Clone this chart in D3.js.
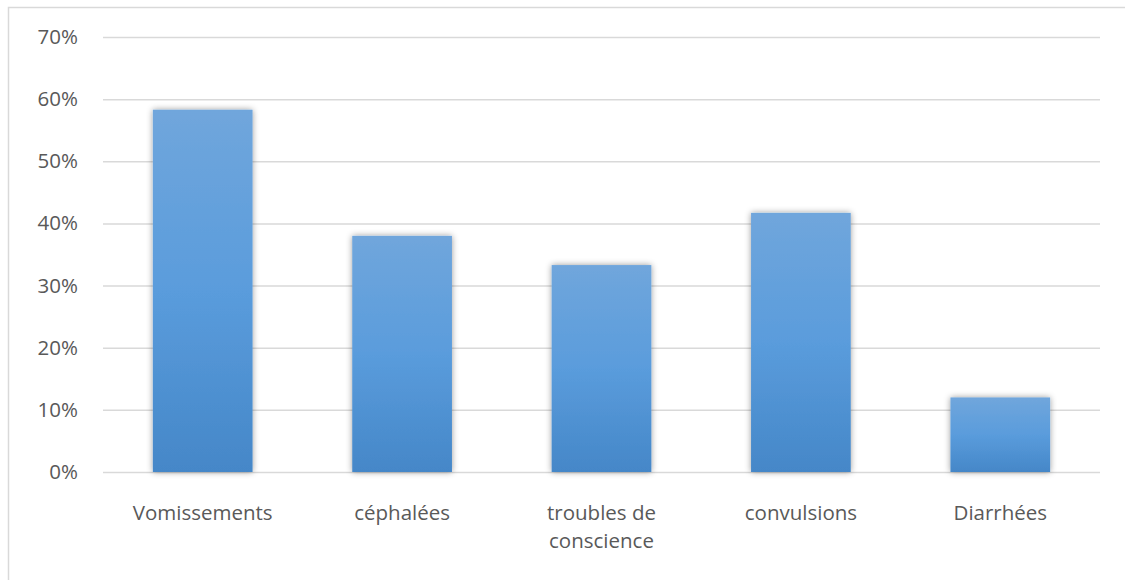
<!DOCTYPE html>
<html>
<head>
<meta charset="utf-8">
<script src="https://cdn.jsdelivr.net/npm/d3@7"></script>
<style>
  html, body { margin: 0; padding: 0; background: #fff; }
  svg { display: block; }
  text { font-family: "Open Sans", "Noto Sans", sans-serif; fill: #595959; }
</style>
</head>
<body>
<svg id="chart" width="1125" height="580"></svg>
<script>
// Symptômes observés (% des patients)
const categories = ["Vomissements", "céphalées", "troubles de conscience", "convulsions", "Diarrhées"];
const values = [58.3, 38, 33.3, 41.7, 12];
const yTicks = [0, 10, 20, 30, 40, 50, 60, 70];

const svg = d3.select("#chart");
const W = 1125, H = 580;
const margin = { left: 103, right: 25, top: 37, bottom: 108 };
const FONT = '"Open Sans", "Noto Sans", sans-serif';
const FS = 20.5;

// chart frame
svg.append("rect")
  .attr("x", 8.5).attr("y", 7.5)
  .attr("width", W + 10).attr("height", H + 10)
  .attr("fill", "none").attr("stroke", "#d9d9d9").attr("stroke-width", 1.5);

const x = d3.scaleBand()
  .domain(categories)
  .range([margin.left, W - margin.right])
  .paddingInner(0.5).paddingOuter(0.25);

const y = d3.scaleLinear()
  .domain([0, 70])
  .range([H - margin.bottom, margin.top]);

const defs = svg.append("defs");
const grad = defs.append("linearGradient")
  .attr("id", "barFill").attr("x1", 0).attr("y1", 0).attr("x2", 0).attr("y2", 1);
grad.append("stop").attr("offset", "0%").attr("stop-color", "#70a6dc");
grad.append("stop").attr("offset", "50%").attr("stop-color", "#5a9cdc");
grad.append("stop").attr("offset", "100%").attr("stop-color", "#4587c8");

const shadow = defs.append("filter").attr("id", "barShadow")
  .attr("x", "-20%").attr("y", "-10%").attr("width", "140%").attr("height", "120%");
shadow.append("feDropShadow")
  .attr("dx", 0).attr("dy", 0).attr("stdDeviation", 3)
  .attr("flood-color", "#000").attr("flood-opacity", 0.4);

// gridlines + y axis labels
const yAxis = d3.axisLeft(y)
  .tickValues(yTicks)
  .tickSize(-(W - margin.right - margin.left))
  .tickPadding(25)
  .tickFormat(d => d + "%");

const gy = svg.append("g")
  .attr("transform", `translate(${margin.left},0)`)
  .call(yAxis);
gy.select(".domain").remove();
gy.selectAll(".tick line").attr("stroke", "#d9d9d9").attr("stroke-width", 1.5);
gy.selectAll(".tick text")
  .attr("font-size", FS)
  .style("font-family", FONT)
  .attr("fill", "#595959");

// bars
svg.append("g").selectAll("rect")
  .data(categories)
  .join("rect")
  .attr("x", d => x(d))
  .attr("width", x.bandwidth())
  .attr("y", (d, i) => y(values[i]))
  .attr("height", (d, i) => y(0) - y(values[i]))
  .attr("fill", "url(#barFill)")
  .attr("filter", "url(#barShadow)");

// category labels, wrapped within the band step
const xAxis = d3.axisBottom(x).tickSize(0).tickPadding(30);
const gx = svg.append("g")
  .attr("transform", `translate(0,${y(0)})`)
  .call(xAxis);
gx.select(".domain").remove();
gx.selectAll(".tick text")
  .attr("font-size", FS)
  .style("font-family", FONT)
  .attr("fill", "#595959")
  .each(function (d) {
    const t = d3.select(this);
    const words = d.split(" ");
    const maxW = 160;
    const lines = [];
    let line = [];
    t.text(null).attr("dy", null).attr("y", null);
    const probe = t.append("tspan");
    words.forEach(w => {
      line.push(w);
      probe.text(line.join(" "));
      if (probe.node().getComputedTextLength() > maxW && line.length > 1) {
        line.pop();
        lines.push(line.join(" "));
        line = [w];
      }
    });
    lines.push(line.join(" "));
    probe.remove();
    lines.forEach((l, i) => {
      t.append("tspan").attr("x", 0).attr("y", 48 + i * 28).text(l);
    });
  });
</script>
</body>
</html>
